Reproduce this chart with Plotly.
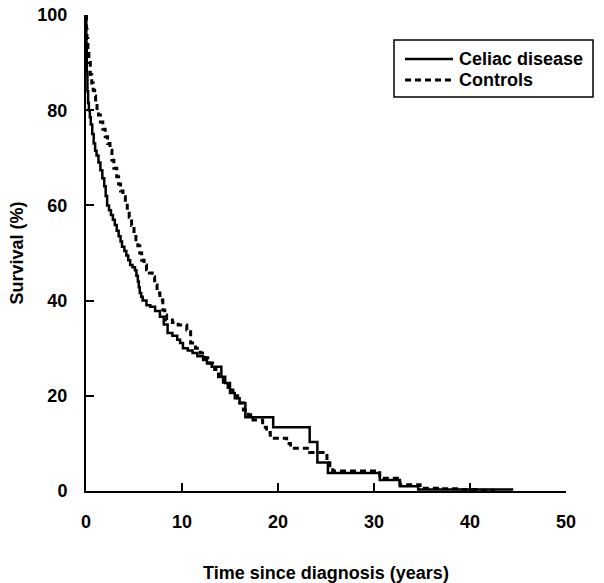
import plotly.graph_objects as go

# Kaplan-Meier step data
celiac_t = [0, 0.03, 0.08, 0.15, 0.22, 0.3, 0.4, 0.5, 0.65, 0.8, 0.95, 1.1, 1.3, 1.5, 1.7,
            1.9, 2.05, 2.2, 2.4, 2.6, 2.8, 3.0, 3.2, 3.4, 3.6, 3.75, 4.0, 4.2, 4.4,
            4.6, 4.85, 5.1, 5.25, 5.4, 5.5, 5.6, 5.75, 5.9, 6.3, 6.7, 7.2, 7.7, 8.1, 8.5,
            9.0, 9.5, 9.8, 10.1, 10.6, 11.1, 11.6, 12.2, 12.6, 13.1, 14.1, 14.5, 15.0,
            15.5, 16.0, 16.6, 19.5, 23.3, 24.1, 25.2, 30.6, 32.7, 34.6, 44.5]
celiac_s = [100, 94, 88, 84, 81.5, 80, 78.5, 77, 75, 73, 71.5, 70.5, 69, 67.4, 65.7,
            64, 62, 60, 59, 58, 57, 55.9, 54.7, 53.5, 52.4, 51.3, 50.4, 49.5, 48.5,
            47.5, 47, 46.4, 45.2, 44, 42.8, 41.6, 40.8, 40, 39, 38.7, 37.8, 36.6, 35, 33.2,
            32.6, 31.8, 31.1, 30, 29.5, 29, 28.3, 27.5, 26.8, 26.1, 24, 22.7, 20.6,
            19.5, 18.5, 15.5, 13.4, 10.3, 6.0, 3.8, 2.3, 1.0, 0.3, 0.3]

control_t = [0, 0.05, 0.1, 0.2, 0.3, 0.45, 0.6, 0.75, 0.9, 1.0, 1.15, 1.3, 1.5, 1.75, 2.0,
             2.25, 2.5, 2.7, 2.9, 3.2, 3.4, 3.6, 3.85, 4.1, 4.3, 4.5, 4.75, 5.0, 5.2,
             5.4, 5.6, 5.8, 6.05, 6.3, 6.6, 6.9, 7.15, 7.4, 7.7, 8.0, 8.2, 8.4, 9.0, 9.6,
             10.5, 10.9, 11.4, 11.9, 12.4, 12.9, 13.4, 13.8, 14.3, 14.8, 15.3, 15.8, 16.4,
             16.9, 17.4, 18.4, 18.8, 19.2, 20.9, 21.3, 23.3, 25.1, 25.4, 25.7, 30.6, 32.7,
             34.8, 37.0, 39.0, 41.0, 42.6]
control_s = [100, 97, 95, 92.5, 90, 87.5, 85.7, 84.2, 83, 81.5, 80, 79, 77.5, 76, 74.4,
             73, 71.6, 69.5, 67.8, 66, 64.5, 63, 61.8, 60.5, 59, 57.5, 55.8, 54.2, 52.8,
             51.5, 50, 48.5, 47.5, 46.5, 45.8, 45, 43.3, 41.6, 40.1, 38, 37, 35.9, 35.4, 34.9,
             33.8, 31.1, 30, 29, 28, 26.9, 25.5, 24, 22.5, 21.2, 20, 18.5, 17,
             16, 14.9, 13.4, 12.3, 11.1, 10.0, 9.0, 8.1, 6.5, 5.0, 4.2, 2.7, 1.3,
             0.6, 0.45, 0.3, 0.15, 0.15]

x_ticks = [0, 10, 20, 30, 40, 50]
y_ticks = [0, 20, 40, 60, 80, 100]
series_names = ["Celiac disease", "Controls"]

FONT = "Liberation Sans, Arial, sans-serif"
BOLD = dict(family=FONT, size=18, color="black", weight="bold")

W, H = 604, 583
ML, MR, MT, MB = 86, 38, 15, 92
PW, PH = W - ML - MR, H - MT - MB


def px(x):
    return (x - ML) / PW


def py(y):
    return 1 - (y - MT) / PH


fig = go.Figure()
fig.add_trace(go.Scatter(x=celiac_t, y=celiac_s, mode="lines", name=series_names[0],
                         line=dict(color="black", width=2.5, shape="hv"), showlegend=False))
fig.add_trace(go.Scatter(x=control_t, y=control_s, mode="lines", name=series_names[1],
                         line=dict(color="black", width=3, shape="hv", dash="6px,4px"),
                         showlegend=False))

# Legend box drawn by hand (wider line samples than Plotly's built-in legend)
fig.add_shape(type="rect", xref="paper", yref="paper",
              x0=px(394), x1=px(593), y0=py(97), y1=py(40),
              line=dict(color="black", width=1.5), fillcolor="white", layer="above")
fig.add_shape(type="line", xref="paper", yref="paper",
              x0=px(405), x1=px(453), y0=py(59), y1=py(59),
              line=dict(color="black", width=2.5))
fig.add_shape(type="line", xref="paper", yref="paper",
              x0=px(405), x1=px(453), y0=py(80), y1=py(80),
              line=dict(color="black", width=3, dash="6px,4px"))
for name, yy in zip(series_names, [59, 80]):
    fig.add_annotation(text=name, xref="paper", yref="paper", x=px(457), y=py(yy),
                       xanchor="left", yanchor="middle", showarrow=False, font=BOLD)

fig.update_layout(
    width=W, height=H,
    margin=dict(l=ML, r=MR, t=MT, b=MB, autoexpand=False),
    paper_bgcolor="white", plot_bgcolor="white",
    font=dict(family=FONT, size=17, color="black"),
    showlegend=False,
    xaxis=dict(range=[0, 50], tickvals=x_ticks, ticks="inside", ticklen=8, tickwidth=2,
               tickcolor="black", showline=True, linecolor="black", linewidth=2,
               showgrid=False, zeroline=False, automargin=False,
               tickfont=BOLD, ticklabelstandoff=13,
               title=dict(text="Time since diagnosis (years)", standoff=50, font=BOLD)),
    yaxis=dict(range=[0, 100], tickvals=y_ticks, ticks="inside", ticklen=8, tickwidth=2,
               tickcolor="black", showline=True, linecolor="black", linewidth=2,
               showgrid=False, zeroline=False, automargin=False,
               tickfont=BOLD, ticklabelstandoff=13,
               title=dict(text="Survival (%)", standoff=9, font=BOLD)),
)

fig.write_html("out.html", config={"displayModeBar": False},
               post_script="document.body.style.margin='0';document.body.style.padding='0';")
